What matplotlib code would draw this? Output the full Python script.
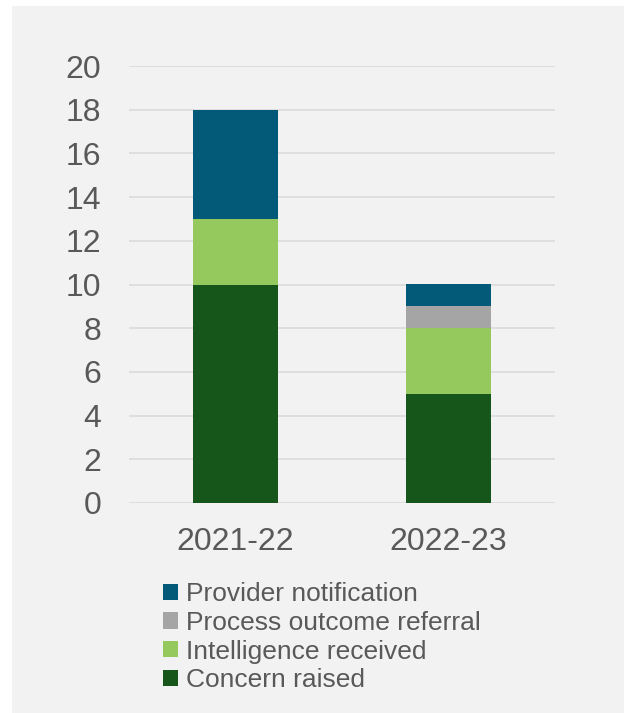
import matplotlib.pyplot as plt
from matplotlib.patches import Patch, Rectangle

years = ["2021-22", "2022-23"]
concern_raised = [10, 5]
intelligence_received = [3, 3]
process_outcome_referral = [0, 1]
provider_notification = [5, 1]

series = [
    ("Concern raised", concern_raised, "#17561b"),
    ("Intelligence received", intelligence_received, "#95c95d"),
    ("Process outcome referral", process_outcome_referral, "#a5a5a5"),
    ("Provider notification", provider_notification, "#025a78"),
]

TEXT = "#595959"
PANEL = "#f2f2f2"

plt.rcParams["font.family"] = ["Liberation Sans", "DejaVu Sans"]

fig = plt.figure(figsize=(6.24, 7.13), dpi=100, facecolor="white")
# grey card behind the chart
fig.patches.append(Rectangle((12 / 624, 0), 1, 1 - 6 / 713, transform=fig.transFigure,
                             facecolor=PANEL, edgecolor="none", zorder=-10))

ax = fig.add_axes([129 / 624, 1 - 503 / 713, 426 / 624, 437 / 713])
ax.set_facecolor(PANEL)

x = range(len(years))
bottom = [0] * len(years)
for name, vals, color in series:
    ax.bar(x, vals, width=0.395, bottom=bottom, color=color, label=name, zorder=3)
    bottom = [b + v for b, v in zip(bottom, vals)]

ax.set_xlim(-0.5, 1.5)
ax.set_ylim(0, 20)
ax.set_yticks(range(0, 21, 2))
ax.set_xticks(list(x))
ax.set_xticklabels(years)
ax.grid(axis="y", color="#d9d9d9", linewidth=1.1, zorder=0)
ax.set_axisbelow(True)
for s in ax.spines.values():
    s.set_visible(False)
ax.tick_params(axis="y", length=0, pad=20, labelsize=23, labelcolor=TEXT)
ax.tick_params(axis="x", length=0, pad=17, labelsize=23, labelcolor=TEXT)

handles = [Patch(facecolor=c, edgecolor="none", label=n) for n, _, c in reversed(series)]
leg = fig.legend(handles=handles, loc="upper left", bbox_to_anchor=(163 / 624, 1 - 582 / 713),
                 frameon=False, fontsize=19, borderpad=0, borderaxespad=0,
                 handlelength=0.57, handleheight=0.57, handletextpad=0.3, labelspacing=0.18)
for t in leg.get_texts():
    t.set_color(TEXT)

fig.savefig("out.png", dpi=100, facecolor="white")
